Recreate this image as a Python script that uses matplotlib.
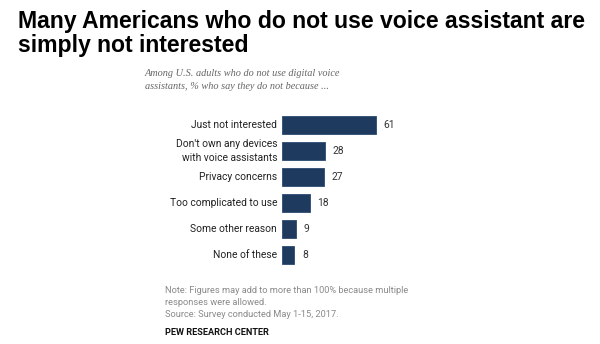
import matplotlib
matplotlib.use("Agg")
import matplotlib.pyplot as plt

categories = ["Just not interested", "Don't own any devices\nwith voice assistants",
              "Privacy concerns", "Too complicated to use", "Some other reason", "None of these"]
values = [61, 28, 27, 18, 9, 8]

W, H = 600, 344
fig = plt.figure(figsize=(W / 100, H / 100), dpi=100)
fig.patch.set_facecolor("white")

ax = fig.add_axes([282 / W, 1 - 268 / H, 100 * 1.54 / W, 156 / H])
ypos = list(range(len(categories)))
ax.barh(ypos, values, height=0.66, color="#1f3a5f", edgecolor="#2b4a72", linewidth=0.6)
ax.set_xlim(0, 100)
ax.set_ylim(len(categories) - 0.5, -0.5)
ax.axis("off")

for y, (c, v) in enumerate(zip(categories, values)):
    ax.text(-3.2, y, c, ha="right", va="center", fontsize=7.4, family="Roboto",
            color="#222222", linespacing=1.45)
    ax.text(v + 5, y, str(v), ha="left", va="center", fontsize=7.4, family="Roboto",
            color="#333333")

fig.text(18 / W, 1 - 10 / H, "Many Americans who do not use voice assistant are\nsimply not interested",
         ha="left", va="top", fontsize=16.6, fontweight="bold", family="Liberation Sans",
         color="black", linespacing=1.05)

fig.text(145 / W, 1 - 69 / H, "Among U.S. adults who do not use digital voice\nassistants, % who say they do not because ...",
         ha="left", va="top", fontsize=7.4, style="italic", family="Liberation Serif",
         color="#666666", linespacing=1.6)

fig.text(165 / W, 1 - 286 / H,
         "Note: Figures may add to more than 100% because multiple\nresponses were allowed.\nSource: Survey conducted May 1-15, 2017.",
         ha="left", va="top", fontsize=6.7, family="Roboto", color="#8a8a8a", linespacing=1.45)

fig.text(165 / W, 1 - 328 / H, "PEW RESEARCH CENTER", ha="left", va="top", fontsize=6.6,
         fontweight="bold", family="Roboto", color="#111111")

fig.savefig("out.png", dpi=100)
